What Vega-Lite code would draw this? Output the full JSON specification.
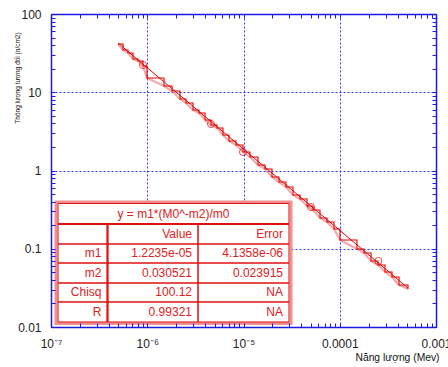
{
  "$schema": "https://vega.github.io/schema/vega-lite/v6.json",
  "width": 385,
  "height": 313,
  "autosize": "none",
  "padding": {"left": 51, "top": 14, "right": 12, "bottom": 40},
  "background": "white",
  "config": {
    "view": {"stroke": null},
    "font": "Liberation Sans",
    "axis": {
      "labelFont": "Liberation Sans",
      "labelFontSize": 12,
      "labelColor": "#222222",
      "domainColor": "#1a1ae6",
      "domainWidth": 1.5,
      "tickColor": "#1a1ae6",
      "tickWidth": 1,
      "gridColor": "#3535f0",
      "gridDash": [2, 2],
      "gridWidth": 1,
      "gridOpacity": 1,
      "titleFont": "Liberation Sans",
      "titleFontWeight": "normal",
      "titleColor": "#111111",
      "labelFlush": false,
      "labelOverlap": false,
      "labelBound": false
    }
  },
  "datasets": {
    "fit": [
      {"x": 4.967e-7, "y": 42.6},
      {"x": 5.117e-4, "y": 0.0315}
    ],
    "steps": [
      {"x": 4.967e-7, "y": 41.37},
      {"x": 5.600e-7, "y": 34.66},
      {"x": 6.310e-7, "y": 31.73},
      {"x": 7.110e-7, "y": 26.60},
      {"x": 8.013e-7, "y": 25.08},
      {"x": 9.033e-7, "y": 21.65},
      {"x": 9.940e-7, "y": 15.21},
      {"x": 1.493e-6, "y": 12.02},
      {"x": 1.808e-6, "y": 10.37},
      {"x": 2.189e-6, "y": 8.197},
      {"x": 2.527e-6, "y": 7.289},
      {"x": 2.987e-6, "y": 5.933},
      {"x": 3.449e-6, "y": 5.430},
      {"x": 3.981e-6, "y": 4.419},
      {"x": 4.596e-6, "y": 3.815},
      {"x": 5.305e-6, "y": 3.492},
      {"x": 6.124e-6, "y": 2.842},
      {"x": 7.069e-6, "y": 2.382},
      {"x": 8.357e-6, "y": 2.118},
      {"x": 9.881e-6, "y": 1.723},
      {"x": 1.168e-5, "y": 1.487},
      {"x": 1.414e-5, "y": 1.176},
      {"x": 1.672e-5, "y": 1.045},
      {"x": 1.977e-5, "y": 0.8259},
      {"x": 2.337e-5, "y": 0.7129},
      {"x": 2.764e-5, "y": 0.6152},
      {"x": 3.268e-5, "y": 0.4862},
      {"x": 3.864e-5, "y": 0.4323},
      {"x": 4.567e-5, "y": 0.3518},
      {"x": 5.275e-5, "y": 0.3129},
      {"x": 6.234e-5, "y": 0.2472},
      {"x": 7.369e-5, "y": 0.2197},
      {"x": 8.716e-5, "y": 0.1788},
      {"x": 1.006e-4, "y": 0.1293},
      {"x": 1.510e-4, "y": 0.09926},
      {"x": 1.786e-4, "y": 0.08824},
      {"x": 2.112e-4, "y": 0.06975},
      {"x": 2.497e-4, "y": 0.06199},
      {"x": 2.952e-4, "y": 0.05045},
      {"x": 3.489e-4, "y": 0.04355},
      {"x": 4.127e-4, "y": 0.03441},
      {"x": 5.117e-4, "y": 0.03059}
    ],
    "circles": [
      {"x": 9.033e-7, "y": 22.29},
      {"x": 4.596e-6, "y": 3.928},
      {"x": 9.881e-6, "y": 1.723},
      {"x": 5.028e-5, "y": 0.3417},
      {"x": 2.52e-4, "y": 0.0698}
    ],
    "outer": [
      {"x": 1.127e-7, "x2": 3.115e-5, "y": 0.3958, "y2": 0.01108}
    ],
    "cells": [
      {"x": 1.1825e-7, "x2": 2.969e-5, "y": 0.3787, "y2": 0.2072},
      {"x": 1.1825e-7, "x2": 3.864e-7, "y": 0.2072, "y2": 0.1150},
      {"x": 3.864e-7, "x2": 3.367e-6, "y": 0.2072, "y2": 0.1150},
      {"x": 3.367e-6, "x2": 2.969e-5, "y": 0.2072, "y2": 0.1150},
      {"x": 1.1825e-7, "x2": 3.864e-7, "y": 0.1150, "y2": 0.06574},
      {"x": 3.864e-7, "x2": 3.367e-6, "y": 0.1150, "y2": 0.06574},
      {"x": 3.367e-6, "x2": 2.969e-5, "y": 0.1150, "y2": 0.06574},
      {"x": 1.1825e-7, "x2": 3.864e-7, "y": 0.06574, "y2": 0.03650},
      {"x": 3.864e-7, "x2": 3.367e-6, "y": 0.06574, "y2": 0.03650},
      {"x": 3.367e-6, "x2": 2.969e-5, "y": 0.06574, "y2": 0.03650},
      {"x": 1.1825e-7, "x2": 3.864e-7, "y": 0.03650, "y2": 0.02087},
      {"x": 3.864e-7, "x2": 3.367e-6, "y": 0.03650, "y2": 0.02087},
      {"x": 3.367e-6, "x2": 2.969e-5, "y": 0.03650, "y2": 0.02087},
      {"x": 1.1825e-7, "x2": 3.864e-7, "y": 0.02087, "y2": 0.01159},
      {"x": 3.864e-7, "x2": 3.367e-6, "y": 0.02087, "y2": 0.01159},
      {"x": 3.367e-6, "x2": 2.969e-5, "y": 0.02087, "y2": 0.01159}
    ],
    "thick": [
      {"x": 1.1825e-7, "x2": 2.969e-5, "y": 0.2072, "y2": 0.2072},
      {"x": 3.864e-7, "x2": 3.864e-7, "y": 0.2072, "y2": 0.01159}
    ],
    "texts": [
      {"x": 3.864e-7, "y": 0.08697, "t": "m1"},
      {"x": 3.864e-7, "y": 0.04899, "t": "m2"},
      {"x": 3.864e-7, "y": 0.02760, "t": "Chisq"},
      {"x": 3.864e-7, "y": 0.01555, "t": "R"},
      {"x": 3.367e-6, "y": 0.1543, "t": "Value"},
      {"x": 3.367e-6, "y": 0.08697, "t": "1.2235e-05"},
      {"x": 3.367e-6, "y": 0.04899, "t": "0.030521"},
      {"x": 3.367e-6, "y": 0.02760, "t": "100.12"},
      {"x": 3.367e-6, "y": 0.01555, "t": "0.99321"},
      {"x": 2.969e-5, "y": 0.1543, "t": "Error"},
      {"x": 2.969e-5, "y": 0.08697, "t": "4.1358e-06"},
      {"x": 2.969e-5, "y": 0.04899, "t": "0.023915"},
      {"x": 2.969e-5, "y": 0.02760, "t": "NA"},
      {"x": 2.969e-5, "y": 0.01555, "t": "NA"}
    ],
    "title": [
      {"x": 1.874e-6, "y": 0.2821, "t": "y = m1*(M0^-m2)/m0"}
    ]
  },
  "layer": [
    {
      "data": {"name": "fit"},
      "mark": {"type": "line", "color": "#e00000", "strokeWidth": 1},
      "encoding": {
        "x": {
          "field": "x", "type": "quantitative",
          "scale": {"type": "log", "domain": [1e-7, 1e-3], "nice": false},
          "axis": {
            "orient": "bottom",
            "values": [1e-7, 1e-6, 1e-5, 1e-4, 1e-3],
            "grid": true, "ticks": false, "domain": true,
            "labelPadding": 11,
            "labelExpr": "round(log(datum.value)/LN10) == -7 ? '10⁻⁷' : round(log(datum.value)/LN10) == -6 ? '10⁻⁶' : round(log(datum.value)/LN10) == -5 ? '10⁻⁵' : round(log(datum.value)/LN10) == -4 ? '0.0001' : '0.001'",
            "title": "Năng lượng (Mev)",
            "titleX": 346, "titleY": 33,
            "titleAlign": "center", "titleBaseline": "alphabetic",
            "titleFontSize": 10.3,
            "zindex": 0
          }
        },
        "y": {
          "field": "y", "type": "quantitative",
          "scale": {"type": "log", "domain": [0.01, 100], "nice": false},
          "axis": {
            "orient": "left",
            "values": [0.01, 0.1, 1, 10, 100],
            "grid": true, "ticks": false, "domain": true,
            "labelPadding": 10,
            "format": "~g",
            "title": "Thông lượng tương đối (n/cm2)",
            "titleX": -34, "titleY": 63.5, "titleAngle": 270,
            "titleAlign": "center", "titleBaseline": "middle",
            "titleFontSize": 6.5,
            "zindex": 0
          }
        }
      }
    },
    {
      "data": {"name": "outer"},
      "mark": {"type": "rect", "fill": "white", "stroke": "#f09090", "strokeWidth": 3},
      "encoding": {
        "x": {"field": "x", "type": "quantitative", "scale": {"type": "log", "domain": [1e-7, 1e-3], "nice": false}, "axis": null},
        "x2": {"field": "x2"},
        "y": {"field": "y", "type": "quantitative", "scale": {"type": "log", "domain": [0.01, 100], "nice": false}, "axis": null},
        "y2": {"field": "y2"}
      }
    },
    {
      "data": {"name": "cells"},
      "mark": {"type": "rect", "fill": null, "filled": false, "stroke": "#e01010", "strokeWidth": 1},
      "encoding": {
        "x": {"field": "x", "type": "quantitative", "scale": {"type": "log", "domain": [1e-7, 1e-3], "nice": false}, "axis": null},
        "x2": {"field": "x2"},
        "y": {"field": "y", "type": "quantitative", "scale": {"type": "log", "domain": [0.01, 100], "nice": false}, "axis": null},
        "y2": {"field": "y2"}
      }
    },
    {
      "data": {"name": "thick"},
      "mark": {"type": "rule", "color": "#e01010", "strokeWidth": 2.2},
      "encoding": {
        "x": {"field": "x", "type": "quantitative", "scale": {"type": "log", "domain": [1e-7, 1e-3], "nice": false}, "axis": null},
        "x2": {"field": "x2"},
        "y": {"field": "y", "type": "quantitative", "scale": {"type": "log", "domain": [0.01, 100], "nice": false}, "axis": null},
        "y2": {"field": "y2"}
      }
    },
    {
      "data": {"name": "texts"},
      "mark": {"type": "text", "align": "right", "baseline": "middle", "dx": -6, "fontSize": 12, "font": "Liberation Sans", "color": "#e02020"},
      "encoding": {
        "x": {"field": "x", "type": "quantitative", "scale": {"type": "log", "domain": [1e-7, 1e-3], "nice": false}, "axis": null},
        "y": {"field": "y", "type": "quantitative", "scale": {"type": "log", "domain": [0.01, 100], "nice": false}, "axis": null},
        "text": {"field": "t"}
      }
    },
    {
      "data": {"name": "title"},
      "mark": {"type": "text", "align": "center", "baseline": "middle", "fontSize": 12, "font": "Liberation Sans", "color": "#e02020"},
      "encoding": {
        "x": {"field": "x", "type": "quantitative", "scale": {"type": "log", "domain": [1e-7, 1e-3], "nice": false}, "axis": null},
        "y": {"field": "y", "type": "quantitative", "scale": {"type": "log", "domain": [0.01, 100], "nice": false}, "axis": null},
        "text": {"field": "t"}
      }
    },
    {
      "data": {"name": "steps"},
      "mark": {"type": "line", "color": "#f06060", "opacity": 0.55, "strokeWidth": 2.2},
      "encoding": {
        "x": {
          "field": "x", "type": "quantitative",
          "scale": {"type": "log", "domain": [1e-7, 1e-3], "nice": false},
          "axis": {
            "orient": "bottom",
            "offset": -4,
            "values": [1e-7,2e-7,3e-7,4e-7,5e-7,6e-7,7e-7,8e-7,9e-7,1e-6,2e-6,3e-6,4e-6,5e-6,6e-6,7e-6,8e-6,9e-6,1e-5,2e-5,3e-5,4e-5,5e-5,6e-5,7e-5,8e-5,9e-5,1e-4,2e-4,3e-4,4e-4,5e-4,6e-4,7e-4,8e-4,9e-4,1e-3],
            "labels": false, "ticks": true, "tickSize": 4, "domain": false, "grid": false,
            "title": null, "zindex": 1
          }
        },
        "y": {
          "field": "y", "type": "quantitative",
          "scale": {"type": "log", "domain": [0.01, 100], "nice": false},
          "axis": {
            "orient": "left",
            "offset": -4,
            "values": [0.01,0.02,0.03,0.04,0.05,0.06,0.07,0.08,0.09,0.1,0.2,0.3,0.4,0.5,0.6,0.7,0.8,0.9,1,2,3,4,5,6,7,8,9,10,20,30,40,50,60,70,80,90,100],
            "labels": false, "ticks": true, "tickSize": 4, "domain": false, "grid": false,
            "title": null, "zindex": 1
          }
        }
      }
    },
    {
      "data": {"name": "steps"},
      "mark": {"type": "line", "color": "#e00000", "strokeWidth": 1.1, "interpolate": "step-after"},
      "encoding": {
        "x": {
          "field": "x", "type": "quantitative",
          "scale": {"type": "log", "domain": [1e-7, 1e-3], "nice": false},
          "axis": {
            "orient": "top",
            "offset": -4,
            "values": [1e-7,2e-7,3e-7,4e-7,5e-7,6e-7,7e-7,8e-7,9e-7,1e-6,2e-6,3e-6,4e-6,5e-6,6e-6,7e-6,8e-6,9e-6,1e-5,2e-5,3e-5,4e-5,5e-5,6e-5,7e-5,8e-5,9e-5,1e-4,2e-4,3e-4,4e-4,5e-4,6e-4,7e-4,8e-4,9e-4,1e-3],
            "labels": false, "ticks": true, "tickSize": 4, "domain": false, "grid": false,
            "title": null, "zindex": 1
          }
        },
        "y": {
          "field": "y", "type": "quantitative",
          "scale": {"type": "log", "domain": [0.01, 100], "nice": false},
          "axis": {
            "orient": "right",
            "offset": -4,
            "values": [0.01,0.02,0.03,0.04,0.05,0.06,0.07,0.08,0.09,0.1,0.2,0.3,0.4,0.5,0.6,0.7,0.8,0.9,1,2,3,4,5,6,7,8,9,10,20,30,40,50,60,70,80,90,100],
            "labels": false, "ticks": true, "tickSize": 4, "domain": false, "grid": false,
            "title": null, "zindex": 1
          }
        }
      }
    },
    {
      "data": {"name": "circles"},
      "mark": {"type": "point", "shape": "circle", "filled": false, "size": 50, "color": "#e00000", "strokeWidth": 1},
      "encoding": {
        "x": {"field": "x", "type": "quantitative", "scale": {"type": "log", "domain": [1e-7, 1e-3], "nice": false}, "axis": null},
        "y": {"field": "y", "type": "quantitative", "scale": {"type": "log", "domain": [0.01, 100], "nice": false}, "axis": null}
      }
    },
    {
      "data": {"name": "fit"},
      "mark": {"type": "line", "opacity": 0},
      "encoding": {
        "x": {
          "field": "x", "type": "quantitative",
          "scale": {"type": "log", "domain": [1e-7, 1e-3], "nice": false},
          "axis": {"orient": "top", "values": [1e-7, 1e-3], "grid": false, "ticks": false, "labels": false, "domain": true, "title": null, "zindex": 1}
        },
        "y": {
          "field": "y", "type": "quantitative",
          "scale": {"type": "log", "domain": [0.01, 100], "nice": false},
          "axis": {"orient": "right", "values": [0.01, 100], "grid": false, "ticks": false, "labels": false, "domain": true, "title": null, "zindex": 1}
        }
      }
    }
  ],
  "resolve": {
    "scale": {"x": "shared", "y": "shared"},
    "axis": {"x": "independent", "y": "independent"}
  }
}
